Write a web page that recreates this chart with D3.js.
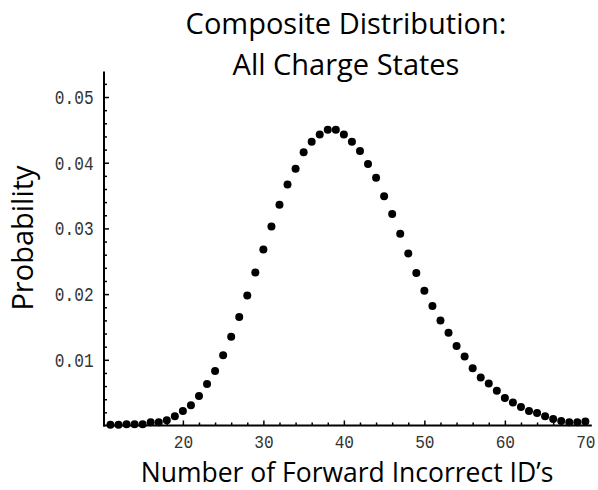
<!DOCTYPE html>
<html>
<head>
<meta charset="utf-8">
<script src="https://cdn.jsdelivr.net/npm/d3@7"></script>
<style>
  body { margin: 0; background: #fff; }
  svg { display: block; }
</style>
</head>
<body>
<svg id="chart"></svg>
<script>
// data
const counts = d3.range(11, 71)
const probability = [
  0.0001, 0.0001, 0.0002, 0.0002, 0.0002, 0.0005, 0.0005, 0.0008, 0.0014, 0.0022,
  0.0031, 0.0045, 0.0063, 0.0083, 0.0107, 0.0135, 0.0165, 0.0198, 0.0233, 0.0268,
  0.0303, 0.0336, 0.0367, 0.0391, 0.0416, 0.0432, 0.0443, 0.0450, 0.0450, 0.0443,
  0.0432, 0.0418, 0.0398, 0.0377, 0.0349, 0.0322, 0.0292, 0.0262, 0.0232, 0.0205,
  0.0182, 0.0160, 0.0141, 0.0121, 0.0105, 0.0087, 0.0073, 0.0064, 0.0053, 0.0042,
  0.0035, 0.0028, 0.0022, 0.0019, 0.0014, 0.0010, 0.0007, 0.0005, 0.0005, 0.0006
]
const xMajorTicks = [20, 30, 40, 50, 60, 70]
const yMajorTicks = [0.01, 0.02, 0.03, 0.04, 0.05]
const yTickLabels = ['0.01', '0.02', '0.03', '0.04', '0.05']
const titleLines = ['Composite Distribution:', 'All Charge States']
const xTitle = 'Number of Forward Incorrect ID\u2019s'
const yTitle = 'Probability'

const data = counts.map((c, i) => ({ count: c, value: probability[i] }))

const svgWidth = 598
const svgHeight = 490
const svg = d3.select('#chart')
  .attr('width', svgWidth)
  .attr('height', svgHeight)

const sans = "'Open Sans', 'Noto Sans', sans-serif"
const mono = "'Liberation Mono', 'DejaVu Sans Mono', monospace"

const x = d3.scaleLinear().domain([10.2, 70.8]).range([104, 591.8])
const y = d3.scaleLinear().domain([0, 0.0539]).range([425.5, 71.4])

// minor ticks (every 2 on x, every 0.002 on y), pointing inward
const xMinor = d3.range(12, 71, 2).filter(v => v % 10 !== 0)
const yMinor = d3.range(1, 27).map(i => i * 0.002).filter((v, i) => (i + 1) % 5 !== 0)

const styleTicks = g => g.selectAll('line').attr('stroke', '#000').attr('stroke-width', 1.5)
// tall, narrow tick digits like the original
const styleLabels = sy => g => g.selectAll('text')
  .attr('fill', '#333')
  .attr('transform', `scale(0.95, ${sy})`)
  .style('font-family', mono)
  .style('font-size', '17px')

svg.append('g')
  .attr('transform', `translate(0, ${y(0)})`)
  .call(d3.axisBottom(x).tickValues(xMinor).tickSize(-3).tickFormat(''))
  .call(g => g.select('.domain').remove())
  .call(styleTicks)

svg.append('g')
  .attr('transform', `translate(0, ${y(0)})`)
  .call(d3.axisBottom(x).tickValues(xMajorTicks).tickSize(-5).tickPadding(8).tickFormat(d3.format('d')))
  .call(g => g.select('.domain').remove())
  .call(styleTicks)
  .call(styleLabels(1.1))

svg.append('g')
  .attr('transform', `translate(${x(10.2)}, 0)`)
  .call(d3.axisLeft(y).tickValues(yMinor).tickSize(-3).tickFormat(''))
  .call(g => g.select('.domain').remove())
  .call(styleTicks)

svg.append('g')
  .attr('transform', `translate(${x(10.2)}, 0)`)
  .call(d3.axisLeft(y).tickValues(yMajorTicks).tickSize(-5).tickPadding(11)
    .tickFormat((d, i) => yTickLabels[i]))
  .call(g => g.select('.domain').remove())
  .call(styleTicks)
  .call(styleLabels(1.2))

// axis lines
svg.append('line')
  .attr('x1', x(10.2)).attr('x2', x(10.2))
  .attr('y1', y(0.0539)).attr('y2', y(0) + 1)
  .attr('stroke', '#000').attr('stroke-width', 2)
svg.append('line')
  .attr('x1', x(10.2) - 1).attr('x2', x(70.8))
  .attr('y1', y(0)).attr('y2', y(0))
  .attr('stroke', '#000').attr('stroke-width', 2)

// points
svg.append('g')
  .selectAll('circle')
  .data(data)
  .enter()
  .append('circle')
  .attr('cx', d => x(d.count))
  .attr('cy', d => y(d.value))
  .attr('r', 4)
  .attr('fill', '#000')

// titles
svg.append('text')
  .attr('text-anchor', 'middle')
  .style('font-family', sans)
  .style('font-size', '29px')
  .attr('fill', '#000')
  .selectAll('tspan')
  .data(titleLines)
  .enter()
  .append('tspan')
  .attr('x', 346)
  .attr('y', (d, i) => 34 + i * 41)
  .text(d => d)

svg.append('text')
  .attr('x', 347)
  .attr('y', 482)
  .attr('text-anchor', 'middle')
  .style('font-family', sans)
  .style('font-size', '26.5px')
  .attr('fill', '#000')
  .text(xTitle)

svg.append('text')
  .attr('transform', 'translate(33, 238) rotate(-90)')
  .attr('text-anchor', 'middle')
  .style('font-family', sans)
  .style('font-size', '29px')
  .attr('fill', '#000')
  .text(yTitle)
</script>
</body>
</html>
